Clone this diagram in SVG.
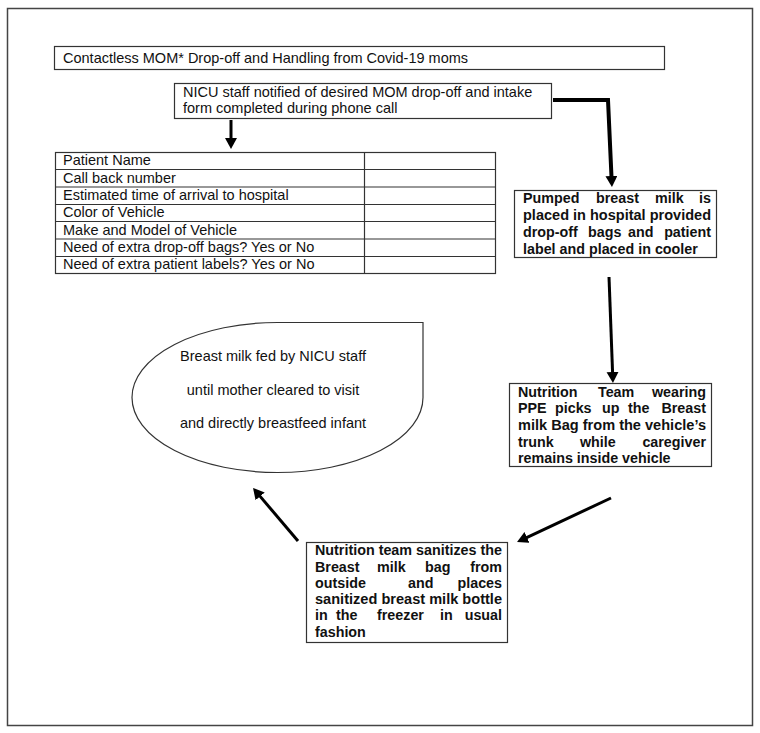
<svg xmlns="http://www.w3.org/2000/svg" width="760" height="733" viewBox="0 0 760 733">
<style>
  .frame{fill:#fff;stroke:#444;stroke-width:1.5}
  .box{fill:#fff;stroke:#333;stroke-width:1.2}
  .t{font-family:"Liberation Sans",Arial,sans-serif;font-size:14.5px;fill:#111}
  .tt{font-family:"Liberation Sans",Arial,sans-serif;font-size:14.5px;fill:#111}
  .b{font-family:"Liberation Sans",Arial,sans-serif;font-size:14.3px;font-weight:bold;fill:#111}
  .e{text-anchor:end}
  .m{text-anchor:middle}
  .arr{fill:none;stroke:#000;stroke-width:3;marker-end:url(#ah)}
  .grid{stroke:#333;stroke-width:1.2}
</style>
<defs>
  <marker id="ah" markerUnits="userSpaceOnUse" markerWidth="14" markerHeight="14" refX="1" refY="6" orient="auto">
    <path d="M0,0 L11,6 L0,12 Z" fill="#000"/>
  </marker>
</defs>
<rect x="0" y="0" width="760" height="733" fill="#fff"/>
<rect class="frame" x="7.5" y="8.5" width="745" height="717"/>

<g id="title">
  <rect class="box" x="54.5" y="46.5" width="610" height="23"/>
  <text class="t" x="63" y="63">Contactless MOM* Drop-off and Handling from Covid-19 moms</text>
</g>

<g id="nicu">
  <rect class="box" x="174.5" y="83.5" width="377" height="35"/>
  <text class="t" x="183" y="97">NICU staff notified of desired MOM drop-off and intake</text>
  <text class="t" x="183" y="113">form completed during phone call</text>
</g>

<g id="form">
  <rect class="box" x="55.5" y="152.5" width="440" height="121"/>
  <line class="grid" x1="364.5" y1="152.5" x2="364.5" y2="273.5"/>
  <line class="grid" x1="55.5" y1="169.5" x2="495.5" y2="169.5"/>
  <line class="grid" x1="55.5" y1="187" x2="495.5" y2="187"/>
  <line class="grid" x1="55.5" y1="204.5" x2="495.5" y2="204.5"/>
  <line class="grid" x1="55.5" y1="221.5" x2="495.5" y2="221.5"/>
  <line class="grid" x1="55.5" y1="239" x2="495.5" y2="239"/>
  <line class="grid" x1="55.5" y1="256.5" x2="495.5" y2="256.5"/>
  <text class="tt" x="63" y="165">Patient Name</text>
  <text class="tt" x="63" y="182.5">Call back number</text>
  <text class="tt" x="63" y="200">Estimated time of arrival to hospital</text>
  <text class="tt" x="63" y="217">Color of Vehicle</text>
  <text class="tt" x="63" y="234.5">Make and Model of Vehicle</text>
  <text class="tt" x="63" y="252">Need of extra drop-off bags? Yes or No</text>
  <text class="tt" x="63" y="269">Need of extra patient labels? Yes or No</text>
</g>

<g id="pumped">
  <rect class="box" x="514.5" y="190.5" width="202" height="67"/>
  <text class="b" x="523" y="203">Pumped</text>
  <text class="b" x="596" y="203">breast</text>
  <text class="b" x="655" y="203">milk</text>
  <text class="b e" x="711" y="203">is</text>
  <text class="b" x="523" y="220" textLength="188" lengthAdjust="spacingAndGlyphs">placed in hospital provided</text>
  <text class="b" x="523" y="237">drop-off</text>
  <text class="b" x="588" y="237">bags</text>
  <text class="b" x="628" y="237">and</text>
  <text class="b e" x="711" y="237">patient</text>
  <text class="b" x="523" y="254">label and placed in cooler</text>
</g>

<g id="pickup">
  <rect class="box" x="509.5" y="383.5" width="202" height="83"/>
  <text class="b" x="518" y="397">Nutrition</text>
  <text class="b" x="598" y="397">Team</text>
  <text class="b e" x="706" y="397">wearing</text>
  <text class="b" x="518" y="413">PPE</text>
  <text class="b" x="555" y="413">picks</text>
  <text class="b" x="602" y="413">up</text>
  <text class="b" x="628" y="413">the</text>
  <text class="b e" x="706" y="413">Breast</text>
  <text class="b" x="518" y="430" textLength="188" lengthAdjust="spacingAndGlyphs">milk Bag from the vehicle’s</text>
  <text class="b" x="518" y="447">trunk</text>
  <text class="b" x="580" y="447">while</text>
  <text class="b e" x="706" y="447">caregiver</text>
  <text class="b" x="518" y="463">remains inside vehicle</text>
</g>

<g id="sanitize">
  <rect class="box" x="306.5" y="542.5" width="201" height="100"/>
  <text class="b" x="315" y="555" textLength="187" lengthAdjust="spacingAndGlyphs">Nutrition team sanitizes the</text>
  <text class="b" x="315" y="572">Breast</text>
  <text class="b" x="377" y="572">milk</text>
  <text class="b" x="425" y="572">bag</text>
  <text class="b e" x="502" y="572">from</text>
  <text class="b" x="315" y="588">outside</text>
  <text class="b" x="408" y="588">and</text>
  <text class="b e" x="502" y="588">places</text>
  <text class="b" x="315" y="604" textLength="187" lengthAdjust="spacingAndGlyphs">sanitized breast milk bottle</text>
  <text class="b" x="315" y="620">in</text>
  <text class="b" x="336" y="620">the</text>
  <text class="b" x="377" y="620">freezer</text>
  <text class="b" x="440" y="620">in</text>
  <text class="b e" x="502" y="620">usual</text>
  <text class="b" x="315" y="637">fashion</text>
</g>

<g id="feed">
  <path d="M423,322.5 L277.5,322.5 A145.5,75 0 0 0 132,397.5 A145.5,75 0 0 0 277.5,472.5 A145.5,75 0 0 0 423,397.5 Z" fill="#fff" stroke="#333" stroke-width="1.2"/>
  <text class="tt m" x="273" y="361">Breast milk fed by NICU staff</text>
  <text class="tt m" x="273" y="395">until mother cleared to visit</text>
  <text class="tt m" x="273" y="428">and directly breastfeed infant</text>
</g>

<g id="connectors">
  <line class="arr" x1="231" y1="120" x2="231" y2="139"/>
  <polyline class="arr" style="stroke-width:4" points="553,100 608,100 611.5,177"/>
  <line class="arr" x1="609" y1="277" x2="612.6" y2="373"/>
  <line class="arr" x1="611" y1="498" x2="526.1" y2="537.8"/>
  <line class="arr" x1="298" y1="541" x2="259.5" y2="495.6"/>
</g>
</svg>
